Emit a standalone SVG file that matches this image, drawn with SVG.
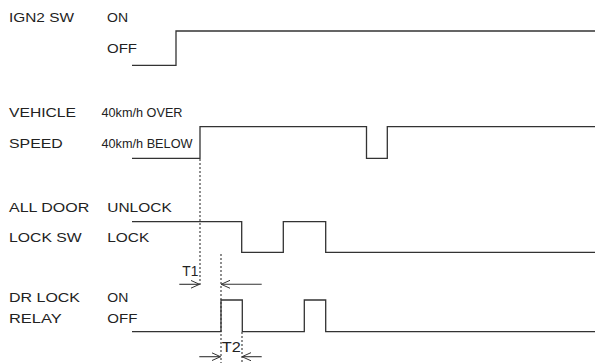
<svg xmlns="http://www.w3.org/2000/svg" width="595" height="363" viewBox="0 0 595 363">
<defs>
<style>
text{font-family:"Liberation Sans",Arial,sans-serif;fill:#222;font-size:13px}
.t{font-size:14.5px}
.sig{fill:none;stroke:#333;stroke-width:1.3}
.dot{fill:none;stroke:#333;stroke-width:1.1;stroke-dasharray:2 2}
.arr{fill:none;stroke:#333;stroke-width:1.1}
</style>
<marker id="ah" viewBox="0 0 10 10" refX="10" refY="5" markerWidth="9" markerHeight="9" markerUnits="userSpaceOnUse" orient="auto">
<path d="M0,0.5 L10,5 L0,9.5" fill="none" stroke="#333" stroke-width="1.1"/>
</marker>
</defs>
<rect width="595" height="363" fill="#fff"/>
<g id="ign2">
<text x="9" y="21.7" textLength="65" lengthAdjust="spacingAndGlyphs">IGN2 SW</text>
<text x="107" y="22.3" textLength="21" lengthAdjust="spacingAndGlyphs">ON</text>
<text x="107" y="52.7" textLength="30" lengthAdjust="spacingAndGlyphs">OFF</text>
<path class="sig" d="M132,65.3 H176 V31 H595"/>
</g>
<g id="speed">
<text x="9" y="117.2" textLength="67" lengthAdjust="spacingAndGlyphs">VEHICLE</text>
<text x="101.5" y="116.8" textLength="81" lengthAdjust="spacingAndGlyphs">40km/h OVER</text>
<text x="9" y="148.2" textLength="53.7" lengthAdjust="spacingAndGlyphs">SPEED</text>
<text x="101.5" y="148" textLength="91" lengthAdjust="spacingAndGlyphs">40km/h BELOW</text>
<path class="sig" d="M132,158.3 H200 V126.7 H366.5 V158.3 H387.3 V126.7 H595"/>
</g>
<g id="lock">
<text x="9" y="211.6" textLength="80.3" lengthAdjust="spacingAndGlyphs">ALL DOOR</text>
<text x="107.3" y="211.6" textLength="64.4" lengthAdjust="spacingAndGlyphs">UNLOCK</text>
<text x="9" y="242.2" textLength="72.7" lengthAdjust="spacingAndGlyphs">LOCK SW</text>
<text x="107.3" y="242.2" textLength="42" lengthAdjust="spacingAndGlyphs">LOCK</text>
<path class="sig" d="M132,221.7 H241.7 V252.3 H283.3 V221.7 H325.7 V252.3 H595"/>
</g>
<g id="relay">
<text x="9" y="301.6" textLength="71" lengthAdjust="spacingAndGlyphs">DR LOCK</text>
<text x="107.3" y="301.6" textLength="21" lengthAdjust="spacingAndGlyphs">ON</text>
<text x="9" y="322.6" textLength="52.7" lengthAdjust="spacingAndGlyphs">RELAY</text>
<text x="107.3" y="322.6" textLength="30" lengthAdjust="spacingAndGlyphs">OFF</text>
<path class="sig" d="M132,331.7 H221 V300 H242.3 V331.7 H304.3 V300 H325.7 V331.7 H595"/>
</g>
<g id="connectors">
<line class="dot" x1="200" y1="159" x2="200" y2="287"/>
<line class="dot" x1="221" y1="254" x2="221" y2="363"/>
<line class="dot" x1="242" y1="332" x2="242" y2="363"/>
<line class="arr" x1="179.3" y1="284.3" x2="199.5" y2="284.3" marker-end="url(#ah)"/>
<line class="arr" x1="261.7" y1="284.3" x2="221.2" y2="284.3" marker-end="url(#ah)"/>
<line class="arr" x1="199.3" y1="356.7" x2="220.5" y2="356.7" marker-end="url(#ah)"/>
<line class="arr" x1="261.7" y1="356.7" x2="242" y2="356.7" marker-end="url(#ah)"/>
</g>
<g id="labels">
<text class="t" x="182.3" y="275.5" textLength="16" lengthAdjust="spacingAndGlyphs">T1</text>
<text class="t" x="221.7" y="351.7" textLength="19" lengthAdjust="spacingAndGlyphs">T2</text>
</g>
</svg>
